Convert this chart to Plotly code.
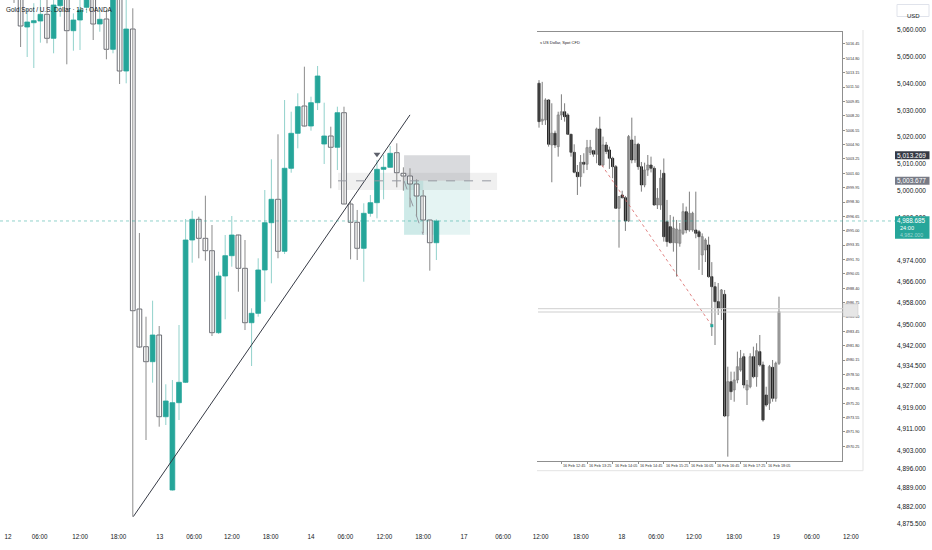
import pandas as pd
import plotly.graph_objects as go

# ---- main chart: Gold Spot / U.S. Dollar, 1h (bar index on x) ----
open_ = [5079, 5076, 5061.12, 5062.72, 5063.36, 5065.86, 5056.9, 5069.07, 5078, 5059.74,
         5063.73, 5068.47, 5078, 5062.24, 5064.1, 5052.79, 5078, 5044.69, 5060.37, 4955.82,
         4941.74, 4936.14, 4946.11, 4915.6, 4888.23, 4920.83, 4928.45, 4981.58, 4989.31, 4982.21,
         4977.59, 4946.97, 4968.14, 4975.72, 4983.45, 4971.01, 4950.7, 4954.21, 4970.39, 4988.04,
         4996.78, 4977.36, 5008.36, 5021.42, 5031.62, 5024.15, 5032.85, 5017.43, 5020.42, 5016.2,
         5029.12, 4995.02, 4988.19, 4978.48, 4991.55, 4995.51, 5007.98, 5008.73, 5014.18, 5006.49,
         5005.48, 5002.49, 4998.01, 4989.05, 4980.57]
high = [5082, 5078, 5068, 5070, 5071.5, 5072, 5074, 5076, 5081, 5066.2,
        5072, 5077, 5080, 5067.47, 5067.47, 5076, 5080, 5072, 5068.1, 4984.2,
        4952.94, 4958.92, 4949.47, 4927.7, 4929.3, 4949.84, 4989.42, 4992.52, 4990.28, 4998.12,
        4987.18, 4969.74, 4983.45, 4990.54, 4983.6, 4981.58, 4956.08, 4974.75, 5000.25, 5011.72,
        5021.05, 5033.86, 5029.49, 5036.36, 5046.3, 5035.09, 5046.56, 5032.85, 5023.89, 5031.36,
        5031.36, 4995.88, 4992.8, 4995.29, 4998.38, 5011.45, 5013.32, 5016.68, 5017.69, 5008.73,
        5008.36, 5004.25, 5000.25, 4989.1, 4989.3]
low = [5070.1, 5053.65, 5049.92, 5045.81, 5055.26, 5055.03, 5051.3, 5064.96, 5047.19, 5052.27,
       5052.53, 5066.35, 5056.26, 5059.36, 5049.06, 5051.3, 5039.83, 5040.1, 4878.26, 4941.25,
       4906.9, 4928.3, 4911.87, 4912.5, 4888.0, 4914.37, 4928.18, 4973.1, 4974.75, 4973.85,
       4945.73, 4946.5, 4951.97, 4971.61, 4962.28, 4947.97, 4934.53, 4952.94, 4958.54, 4965.41,
       4974.75, 4976.35, 5006.71, 5015.82, 5023.9, 5022.4, 5030.12, 5009.96, 5000.89, 5007.72,
       4995.0, 4974.37, 4974.11, 4966.0, 4990.28, 4989.68, 4996.78, 5008.7, 5001.26, 4999.99,
       4993.79, 4990.28, 4984.08, 4970.12, 4974.11]
close = [5075, 5061.49, 5062.98, 5063.47, 5065.86, 5056.9, 5069.33, 5074, 5059.74, 5063.73,
         5067.47, 5075, 5062.24, 5063.99, 5052.79, 5074, 5044.69, 5060.37, 4955.18, 4941.62,
         4936.14, 4946.11, 4915.6, 4921.47, 4920.83, 4928.45, 4981.58, 4989.31, 4982.21, 4977.59,
         4946.97, 4968.14, 4975.72, 4983.45, 4971.01, 4950.7, 4954.21, 4970.39, 4988.04, 4996.78,
         4977.36, 5008.36, 5021.42, 5031.36, 5024.15, 5032.85, 5042.82, 5020.42, 5016.2, 5029.12,
         4995.02, 4988.19, 4978.48, 4991.55, 4995.51, 5007.98, 5008.73, 5013.95, 5006.71, 5005.48,
         5002.49, 4998.01, 4989.05, 4980.57, 4988.685]

x_tick_bars = [-0.9, 3.9, 10, 15.8, 22.1, 27.3, 33, 38.9, 45, 50.2, 56.1, 62,
               68.2, 74.1, 79.8, 85.9, 92.1, 97.3, 103, 109.1, 115.5, 120.9, 126.8]
x_tick_text = ["12", "06:00", "12:00", "18:00", "13", "06:00", "12:00", "18:00",
               "14", "06:00", "12:00", "18:00", "17", "06:00", "12:00", "18:00",
               "18", "06:00", "12:00", "18:00", "19", "06:00", "12:00"]
y_ticks = [5060, 5050, 5040, 5030, 5020, 5010, 5000, 4990, 4974, 4966, 4958,
           4950, 4942, 4934.5, 4927, 4919, 4911, 4903, 4896, 4889, 4882, 4875.5]

last_price = 4988.685
entry_price = 5003.677
stop_price = 5013.269
target_price = 4983.5
position_bars = [59.1, 69.1]
elapsed_bar = 62.0
zone_prices = [5000.3, 5006.7]
zone_bars = [49.1, 73.2]
trend_bars = [18.08, 60.0]
trend_prices = [4878.3, 5028.3]
signal_bar = [55]
signal_price = [5013.6]

# ---- inset: 5 minute chart pasted on the right ----
ins_open = [5011.94, 5007.6, 5007.72, 5010.02, 5004.85, 5006.2, 5004.66, 5008.3, 5008.67, 5008.3,
            5006.08, 5004.01, 5001.72, 5001.21, 5002.86, 5002.64, 5004.0, 5004.2, 5003.78, 5006.69,
            5002.55, 5004.85, 5004.28, 5003.32, 5002.36, 4997.58, 4999.11, 4998.8, 4996.12, 5005.43,
            5003.13, 5004.93, 5002.36, 5000.26, 5001.98, 5002.55, 5002.17, 4997.96, 4997.96, 5001.6,
            4996.04, 4995.47, 4993.63, 4993.6, 4993.56, 4994.71, 4997.19, 4995.09, 4995.09, 4995.09,
            4994.89, 4992.22, 4992.79, 4993.37, 4989.73, 4988.58, 4986.86, 4986.1, 4987.7, 4973.73,
            4977.67, 4976.72, 4977.86, 4979.01, 4980.54, 4976.72, 4977.09, 4980.54, 4978.24, 4981.12,
            4979.59, 4976.14, 4975.19, 4979.32, 4975.76, 4979.78]
ins_high = [5012.3, 5012.1, 5010.21, 5010.1, 5009.64, 5006.5, 5008.67, 5010.67, 5009.64, 5008.5,
            5006.1, 5004.93, 5002.55, 5003.7, 5003.9, 5005.43, 5005.43, 5004.3, 5006.84, 5008.1,
            5005.81, 5005.2, 5004.66, 5003.5, 5002.55, 4999.0, 4999.6, 4999.0, 5006.0, 5007.99,
            5005.9, 5005.1, 5002.9, 5002.82, 5003.7, 5003.51, 5002.4, 4999.9, 5002.0, 5003.3,
            4998.54, 4996.81, 4996.62, 4996.24, 4995.89, 4998.16, 4997.77, 4999.49, 4997.19, 4999.49,
            4995.09, 4994.7, 4994.14, 4994.32, 4991.4, 4989.12, 4989.0, 4988.31, 4988.2, 4979.39,
            4978.82, 4978.82, 4981.12, 4981.31, 4980.93, 4977.86, 4980.93, 4981.69, 4982.08, 4983.03,
            4979.97, 4977.09, 4979.59, 4980.16, 4979.97, 4987.43]
ins_low = [5006.84, 5007.15, 5007.15, 5004.66, 5000.57, 5004.5, 5003.51, 5007.72, 5007.53, 5006.0,
           5003.51, 5001.6, 4999.11, 5000.06, 5001.6, 5001.98, 5003.7, 5003.5, 5002.75, 5002.47,
           5002.36, 5003.8, 5002.1, 5001.03, 4997.5, 4993.06, 4998.7, 4994.98, 4996.0, 5002.75,
           5002.8, 5002.0, 4999.49, 5000.0, 5001.3, 5001.7, 4997.9, 4997.5, 4997.4, 4993.75,
           4993.17, 4993.56, 4992.6, 4989.73, 4993.17, 4994.52, 4994.71, 4994.89, 4994.89, 4994.14,
           4990.5, 4989.92, 4991.41, 4989.6, 4982.92, 4981.88, 4985.33, 4984.75, 4973.6, 4969.06,
           4975.57, 4975.37, 4977.49, 4978.82, 4976.91, 4974.99, 4976.91, 4978.06, 4977.09, 4979.4,
           4973.08, 4974.8, 4974.42, 4975.37, 4975.37, 4979.59]
ins_close = [5007.53, 5007.8, 5010.02, 5004.93, 5006.2, 5004.85, 5008.3, 5008.67, 5008.1, 5006.08,
             5004.01, 5001.72, 5001.21, 5002.86, 5002.64, 5004.54, 5004.6, 5003.8, 5006.69, 5002.55,
             5004.85, 5004.1, 5003.32, 5002.36, 4997.58, 4998.92, 4998.8, 4996.12, 5005.81, 5003.13,
             5004.93, 5002.36, 5000.26, 5001.98, 5002.55, 5002.17, 4997.96, 4998.73, 5001.03, 4994.32,
             4993.75, 4993.63, 4995.29, 4995.2, 4995.09, 4997.19, 4995.09, 4997.01, 4997.01, 4994.71,
             4994.32, 4994.32, 4993.94, 4989.73, 4988.58, 4986.86, 4986.1, 4988.2, 4973.73, 4977.67,
             4976.52, 4977.86, 4979.39, 4980.36, 4977.29, 4977.29, 4980.54, 4978.24, 4981.23, 4979.59,
             4973.27, 4974.99, 4979.39, 4975.76, 4979.78, 4985.71]
ins_start = "2026-02-16 12:10"
ins_y_ticks = [5016.45, 5014.80, 5013.15, 5011.50, 5009.85, 5008.20, 5006.55, 5004.90,
               5003.25, 5001.60, 4999.95, 4998.30, 4996.65, 4995.00, 4993.35, 4991.70,
               4990.05, 4988.40, 4986.75, 4985.10, 4983.45, 4981.80, 4980.15, 4978.50,
               4976.85, 4975.20, 4973.55, 4971.90, 4970.25]
ins_tick_times = ["2026-02-16 12:05", "2026-02-16 12:45", "2026-02-16 13:25", "2026-02-16 14:05",
                  "2026-02-16 14:45", "2026-02-16 15:25", "2026-02-16 16:05", "2026-02-16 16:45",
                  "2026-02-16 17:25", "2026-02-16 18:05"]
ins_tick_text = ["16 Feb 12:05", "16 Feb 12:45", "16 Feb 13:25", "16 Feb 14:05", "16 Feb 14:45",
                 "16 Feb 15:25", "16 Feb 16:05", "16 Feb 16:45", "16 Feb 17:25", "16 Feb 18:05"]
ins_bid_ask = [4986.05, 4985.67]
ins_path_times = ["2026-02-16 13:48", "2026-02-16 16:40"]
ins_path_prices = [5002.55, 4984.1]

TEAL = "#26a69a"
TEAL_WICK = "rgba(38,166,154,0.5)"
DARK = "#131722"
FONT = "Liberation Sans"

# plot area is 890 x 532 px (margins r=42, b=18)
def px(x):
    return x / 890

def py(y):
    return 1 - y / 532

bars = list(range(len(open_)))
up = [c >= o for o, c in zip(open_, close)]

fig = go.Figure()

# wicks
for is_up, col in [(True, TEAL_WICK), (False, "#8c8c8c")]:
    wx, wy = [], []
    for i in bars:
        if up[i] == is_up:
            wx += [i, i, None]
            wy += [low[i], high[i], None]
    fig.add_trace(go.Scatter(x=wx, y=wy, mode="lines", line=dict(color=col, width=1),
                             hoverinfo="skip"))

# bodies
fig.add_trace(go.Bar(
    x=bars,
    base=[min(o, c) for o, c in zip(open_, close)],
    y=[max(abs(c - o), 0.4) for o, c in zip(open_, close)],
    width=0.72,
    marker=dict(color=[TEAL if u else "white" for u in up],
                line=dict(color=[TEAL if u else "#4a4d55" for u in up], width=0.8)),
    hoverinfo="skip",
))

# trendline and signal marker
fig.add_trace(go.Scatter(x=trend_bars, y=trend_prices, mode="lines",
                         line=dict(color="#363a45", width=1), hoverinfo="skip"))
fig.add_trace(go.Scatter(x=signal_bar, y=signal_price, mode="markers",
                         marker=dict(symbol="triangle-down", size=6, color="#5d606b"),
                         hoverinfo="skip"))

# inset candles
ins_t = pd.date_range(ins_start, periods=len(ins_open), freq="5min")
ins_up = [c >= o for o, c in zip(ins_open, ins_close)]
wx, wy = [], []
for t, lo, hi in zip(ins_t, ins_low, ins_high):
    wx += [t, t, None]
    wy += [lo, hi, None]
fig.add_trace(go.Scatter(x=wx, y=wy, mode="lines", line=dict(color="#7d7d7d", width=1),
                         xaxis="x2", yaxis="y2", hoverinfo="skip"))
fig.add_trace(go.Bar(
    x=ins_t,
    base=[min(o, c) for o, c in zip(ins_open, ins_close)],
    y=[max(abs(c - o), 0.12) for o, c in zip(ins_open, ins_close)],
    width=5 * 60 * 1000 * 0.68,
    marker=dict(color=["#cdcdcd" if u else "#000000" for u in ins_up],
                line=dict(color=["#7a7a7a" if u else "#000000" for u in ins_up], width=0.7)),
    xaxis="x2", yaxis="y2", hoverinfo="skip",
))
fig.add_trace(go.Scatter(x=ins_path_times, y=ins_path_prices, mode="lines",
                         line=dict(color="rgba(214,90,90,0.75)", width=1, dash="dot"),
                         xaxis="x2", yaxis="y2", hoverinfo="skip"))
fig.add_trace(go.Scatter(x=ins_path_times[1:], y=ins_path_prices[1:], mode="markers",
                         marker=dict(symbol="square", size=3, color=TEAL),
                         xaxis="x2", yaxis="y2", hoverinfo="skip"))

shapes = [
    # horizontal zone and entry line
    dict(type="rect", xref="x", yref="y", x0=zone_bars[0], x1=zone_bars[1],
         y0=zone_prices[0], y1=zone_prices[1], fillcolor="rgba(0,0,0,0.06)",
         line=dict(width=0), layer="below"),
    dict(type="line", xref="x", yref="y", x0=zone_bars[0], x1=zone_bars[1],
         y0=entry_price, y1=entry_price, line=dict(color="#9598a1", width=1, dash="dash")),
    # short position tool
    dict(type="rect", xref="x", yref="y", x0=position_bars[0], x1=position_bars[1],
         y0=entry_price, y1=stop_price, fillcolor="rgba(120,123,134,0.28)",
         line=dict(width=0), layer="below"),
    dict(type="rect", xref="x", yref="y", x0=position_bars[0], x1=position_bars[1],
         y0=target_price, y1=entry_price, fillcolor="rgba(38,166,154,0.12)",
         line=dict(width=0), layer="below"),
    dict(type="rect", xref="x", yref="y", x0=position_bars[0], x1=elapsed_bar,
         y0=target_price, y1=entry_price, fillcolor="rgba(38,166,154,0.12)",
         line=dict(width=0), layer="below"),
    dict(type="line", xref="x", yref="y", x0=position_bars[0], x1=elapsed_bar,
         y0=entry_price, y1=target_price, line=dict(color="#9598a1", width=1, dash="dash")),
    # last price line
    dict(type="line", xref="paper", yref="y", x0=0, x1=px(895), y0=last_price, y1=last_price,
         line=dict(color="rgba(38,166,154,0.5)", width=1, dash="dot")),
    # inset picture border
    dict(type="line", xref="paper", yref="paper", x0=px(863), x1=px(863), y0=py(30), y1=py(470.7),
         line=dict(color="#e3e3e3", width=1)),
    dict(type="line", xref="paper", yref="paper", x0=px(537), x1=px(863), y0=py(470.7), y1=py(470.7),
         line=dict(color="#e3e3e3", width=1)),
    # price axis labels
    dict(type="rect", xref="paper", yref="y", x0=px(895), x1=px(929.5),
         y0=stop_price - 1.5, y1=stop_price + 1.5, fillcolor="#363a45", line=dict(width=0)),
    dict(type="rect", xref="paper", yref="y", x0=px(895), x1=px(929.5),
         y0=entry_price - 1.5, y1=entry_price + 1.5, fillcolor="#787b86", line=dict(width=0)),
    dict(type="rect", xref="paper", yref="y", x0=px(895), x1=px(929.5),
         y0=last_price - 6.6, y1=last_price + 1.8, fillcolor=TEAL, line=dict(width=0)),
    dict(type="rect", xref="paper", yref="paper", x0=px(897), x1=px(929), y0=py(16.5), y1=py(4.5),
         fillcolor="white", line=dict(color="#e0e3eb", width=1)),
]
for p in ins_bid_ask:
    shapes.append(dict(type="line", xref="paper", yref="y2", x0=px(538), x1=px(858), y0=p, y1=p,
                       line=dict(color="#cfcfcf", width=1)))
shapes.append(dict(type="rect", xref="paper", yref="y2", x0=px(843), x1=px(858),
                   y0=ins_bid_ask[1] - 0.55, y1=ins_bid_ask[0] + 0.55,
                   fillcolor="#e6e6e6", line=dict(color="#c4c4c4", width=0.5)))

ann = [
    dict(x=px(4), y=py(9.5), xref="paper", yref="paper", text="Gold Spot / U.S. Dollar · 1h · OANDA",
         showarrow=False, xanchor="left", yanchor="middle", font=dict(size=6.4, color=DARK)),
    dict(x=px(913), y=py(10.5), xref="paper", yref="paper", text="USD", showarrow=False,
         xanchor="center", font=dict(size=6, color=DARK)),
    dict(x=px(912), y=stop_price, xref="paper", yref="y", text="5,013.269", showarrow=False,
         xanchor="center", font=dict(size=6.5, color="white")),
    dict(x=px(912), y=entry_price, xref="paper", yref="y", text="5,003.677", showarrow=False,
         xanchor="center", font=dict(size=6.5, color="white")),
    dict(x=px(912), y=last_price, xref="paper", yref="y", text=f"{last_price:,.3f}", showarrow=False,
         xanchor="center", font=dict(size=6.3, color="white")),
    dict(x=px(898), y=last_price - 2.5, xref="paper", yref="y", text="24:00", showarrow=False,
         xanchor="left", font=dict(size=5.6, color="white")),
    dict(x=px(912), y=last_price - 5.3, xref="paper", yref="y", text="4,982.000", showarrow=False,
         xanchor="center", font=dict(size=5.2, color="rgba(255,255,255,0.55)")),
    dict(x=px(538), y=py(37.7), xref="paper", yref="paper", text="s US Dollar, Spot CFD",
         showarrow=False, xanchor="left", font=dict(size=4, color="#222")),
]
for t, s in zip(ins_tick_times, ins_tick_text):
    ann.append(dict(x=t, y=py(465.5), xref="x2", yref="paper", text=s, showarrow=False,
                    xanchor="left", yanchor="middle", font=dict(size=3.8, color="#333")))

fig.update_layout(
    width=932, height=550,
    margin=dict(l=0, r=42, t=0, b=18, autoexpand=False),
    paper_bgcolor="white", plot_bgcolor="white",
    showlegend=False, barmode="overlay",
    font=dict(family=FONT, color=DARK),
    shapes=shapes, annotations=ann,
    xaxis=dict(range=[-2.121, 132.73], tickvals=x_tick_bars, ticktext=x_tick_text,
               showgrid=False, zeroline=False, showline=False, ticks="", automargin=False,
               tickfont=dict(size=6.3, color=DARK), fixedrange=True),
    yaxis=dict(range=[4872.55, 5071.2], side="right", tickvals=y_ticks,
               ticktext=[f"{v:,.3f}" for v in y_ticks], showgrid=False, zeroline=False,
               showline=False, ticks="", ticklabelstandoff=6, automargin=False,
               tickfont=dict(size=6.5, color=DARK)),
    xaxis2=dict(domain=[px(537), px(842)], anchor="y2", type="date",
                range=["2026-02-16 12:06:52", "2026-02-16 20:03:27"],
                tickvals=ins_tick_times, showticklabels=False, ticks="outside", ticklen=2,
                tickcolor="#8f8f8f", showline=True, linecolor="#8f8f8f", linewidth=1,
                mirror=True, showgrid=False, zeroline=False, automargin=False),
    yaxis2=dict(domain=[py(461), py(32.3)], anchor="x2", side="right",
                range=[4968.56, 5017.79], tickvals=ins_y_ticks,
                ticktext=[f"{v:.2f}" for v in ins_y_ticks], ticks="outside", ticklen=2,
                tickcolor="#8f8f8f", showline=True, linecolor="#8f8f8f", linewidth=1,
                showgrid=False, zeroline=False, automargin=False,
                tickfont=dict(size=3.8, color="#333")),
)

# the page body has a default 8px margin; drop it so the figure fills the window
fig.write_html("out.html", config={"displayModeBar": False},
               post_script="document.body.style.margin='0';")
